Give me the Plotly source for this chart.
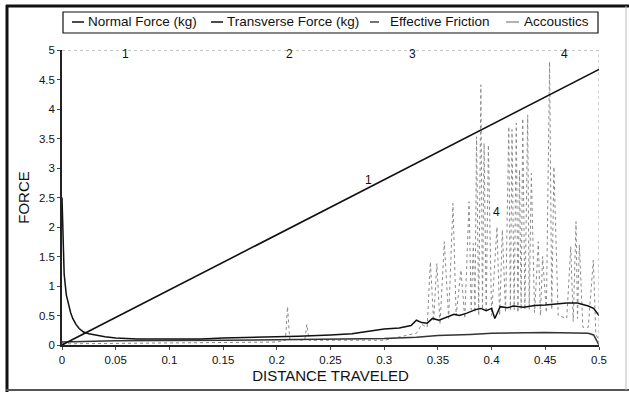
import plotly.graph_objects as go

# ---------------- data ----------------
normal_x = [0.0, 0.5]
normal_y = [0.0, 4.67]

trans_x = [0, 0.001, 0.002, 0.004, 0.006, 0.008, 0.01, 0.013, 0.016, 0.02, 0.025, 0.03, 0.04, 0.05,
           0.07, 0.1, 0.13, 0.15, 0.18, 0.2, 0.22, 0.25, 0.27, 0.284, 0.3, 0.314, 0.325, 0.33, 0.335,
           0.34, 0.345, 0.351, 0.36, 0.365, 0.37, 0.377, 0.385, 0.39, 0.395, 0.4, 0.403, 0.408, 0.415,
           0.42, 0.43, 0.44, 0.45, 0.46, 0.47, 0.48, 0.485, 0.49, 0.495, 0.5]
trans_y = [2.5, 1.9, 1.2, 0.85, 0.68, 0.55, 0.45, 0.35, 0.28, 0.22, 0.19, 0.17, 0.14, 0.12,
           0.1, 0.1, 0.1, 0.12, 0.13, 0.14, 0.15, 0.17, 0.19, 0.23, 0.27, 0.29, 0.33, 0.42, 0.38,
           0.37, 0.45, 0.42, 0.48, 0.52, 0.5, 0.54, 0.6, 0.62, 0.58, 0.62, 0.45, 0.65, 0.63,
           0.66, 0.64, 0.67, 0.68, 0.7, 0.71, 0.71, 0.69, 0.66, 0.62, 0.5]

fric_x = [0, 0.01, 0.02, 0.05, 0.1, 0.15, 0.2, 0.25, 0.3, 0.33, 0.35, 0.38, 0.4, 0.45, 0.49, 0.495, 0.5]
fric_y = [0.05, 0.06, 0.06, 0.07, 0.07, 0.08, 0.09, 0.1, 0.11, 0.13, 0.16, 0.18, 0.2, 0.21, 0.2, 0.17, 0.0]

acou_x = [0, 0.1, 0.2, 0.208, 0.21, 0.212, 0.226, 0.228, 0.23, 0.3, 0.33, 0.335, 0.34,
          0.343, 0.346, 0.349, 0.352, 0.356, 0.36, 0.364, 0.367, 0.3715, 0.375, 0.379, 0.381,
          0.383, 0.3845, 0.386, 0.388, 0.390, 0.3915, 0.393, 0.395, 0.397, 0.400, 0.405, 0.4075,
          0.410, 0.413, 0.416, 0.4175, 0.419, 0.421, 0.423, 0.4245, 0.426, 0.4275, 0.429, 0.431,
          0.4336, 0.435, 0.437, 0.440, 0.4435, 0.4455, 0.4475, 0.451, 0.454, 0.456, 0.458, 0.462,
          0.470, 0.4737, 0.476, 0.4786, 0.480, 0.4817, 0.485, 0.490, 0.4947, 0.497, 0.5]
acou_y = [0.02, 0.03, 0.05, 0.08, 0.65, 0.1, 0.08, 0.35, 0.08, 0.08, 0.2, 0.35, 0.3,
          1.41, 0.4, 1.38, 0.35, 1.75, 0.45, 2.40, 0.5, 1.27, 0.45, 2.43, 0.6,
          1.72, 0.55, 3.53, 0.5, 4.41, 0.6, 3.42, 0.55, 3.39, 0.5, 2.0, 0.5,
          1.95, 0.55, 3.70, 0.6, 3.65, 0.6, 3.76, 0.55, 2.97, 0.6, 3.84, 0.6,
          3.90, 0.6, 2.91, 0.55, 1.75, 0.5, 1.50, 0.55, 4.80, 0.6, 3.02, 0.5,
          0.45, 1.67, 0.4, 2.09, 0.45, 1.7, 0.3, 0.3, 1.44, 0.2, 0.05]

x_ticks = [0, 0.05, 0.1, 0.15, 0.2, 0.25, 0.3, 0.35, 0.4, 0.45, 0.5]
x_tick_text = ["0", "0.05", "0.1", "0.15", "0.2", "0.25", "0.3", "0.35", "0.4", "0.45", "0.5"]
y_ticks = [0, 0.5, 1, 1.5, 2, 2.5, 3, 3.5, 4, 4.5, 5]
y_tick_text = ["0", "0.5", "1", "1.5", "2", "2.5", "3", "3.5", "4", "4.5", "5"]

legend_names = ["Normal Force (kg)", "Transverse Force (kg)", "Effective Friction", "Accoustics"]

# ---------------- figure ----------------
W, H = 629, 394
ML, MR, MT, MB = 62, 30, 50, 49
PW, PH = W - ML - MR, H - MT - MB

def px(xp):
    return (xp - ML) / PW

def py(yp):
    return (H - MB - yp) / PH

fig = go.Figure()
fig.add_trace(go.Scatter(x=acou_x, y=acou_y, mode="lines", name=legend_names[3],
                         line=dict(color="#8a8a8a", width=1, dash="dot")))
fig.add_trace(go.Scatter(x=fric_x, y=fric_y, mode="lines", name=legend_names[2],
                         line=dict(color="#333333", width=1.5)))
fig.add_trace(go.Scatter(x=trans_x, y=trans_y, mode="lines", name=legend_names[1],
                         line=dict(color="#111111", width=1.5)))
fig.add_trace(go.Scatter(x=normal_x, y=normal_y, mode="lines", name=legend_names[0],
                         line=dict(color="#111111", width=1.6)))

font = "Liberation Sans, Arial, sans-serif"
shapes = []
annotations = []

# plot border top/right dotted
shapes.append(dict(type="line", xref="x", yref="y", x0=0, x1=0.5, y0=5, y1=5,
                   line=dict(color="#888", width=1, dash="dot")))
shapes.append(dict(type="line", xref="x", yref="y", x0=0.5, x1=0.5, y0=0, y1=5,
                   line=dict(color="#aaa", width=1, dash="dot")))

# outer frame
shapes.append(dict(type="line", xref="paper", yref="paper", x0=px(7), x1=px(7), y0=py(5), y1=py(392),
                   line=dict(color="#111", width=3)))
shapes.append(dict(type="line", xref="paper", yref="paper", x0=px(6), x1=px(629), y0=py(6), y1=py(6),
                   line=dict(color="#111", width=3)))
shapes.append(dict(type="line", xref="paper", yref="paper", x0=px(6), x1=px(629), y0=py(390), y1=py(390),
                   line=dict(color="#555", width=2)))
shapes.append(dict(type="line", xref="paper", yref="paper", x0=px(626), x1=px(626), y0=py(6), y1=py(390),
                   line=dict(color="#bbb", width=1)))

# manual legend
shapes.append(dict(type="rect", xref="paper", yref="paper", x0=px(63), x1=px(598), y0=py(12), y1=py(33),
                   line=dict(color="#111", width=1.2), fillcolor="white"))
leg_items = [
    (72, 84, 86, "#111", "solid"),
    (211, 223, 225, "#111", "solid"),
    (370, 385, 388, "#444", "dash"),
    (506, 519, 522, "#999", "solid"),
]
for (a, b, t, c, d), name in zip(leg_items, legend_names):
    shapes.append(dict(type="line", xref="paper", yref="paper", x0=px(a), x1=px(b), y0=py(22), y1=py(22),
                       line=dict(color=c, width=1.5, dash=d)))
    annotations.append(dict(text=name, xref="paper", yref="paper", x=px(t), y=py(22), xanchor="left",
                            yanchor="middle", showarrow=False, font=dict(family=font, size=13.5, color="#111")))

# curve labels
for txt, x, y, xa in [("1", 0.0587, 4.93, "center"), ("2", 0.212, 4.93, "center"),
                      ("3", 0.326, 4.93, "center"), ("4", 0.468, 4.93, "center"),
                      ("1", 0.285, 2.8, "center"), ("4", 0.405, 2.25, "center"),
                      ("2", 0.501, 0.5, "left"), ("3", 0.502, 0.14, "left")]:
    annotations.append(dict(text=txt, x=x, y=y, xref="x", yref="y", showarrow=False, xanchor=xa,
                            yanchor="middle", font=dict(family=font, size=12, color="#111")))

fig.update_layout(
    width=W, height=H,
    margin=dict(l=ML, r=MR, t=MT, b=MB),
    paper_bgcolor="white", plot_bgcolor="white",
    showlegend=False,
    shapes=shapes, annotations=annotations,
    font=dict(family=font, color="#222"),
    xaxis=dict(range=[0, 0.5], tickvals=x_ticks, ticktext=x_tick_text, showgrid=False, zeroline=False,
               showline=True, linecolor="#222", linewidth=1.5, ticks="outside", ticklen=3, tickcolor="#444",
               tickfont=dict(size=11.5, color="#111"),
               title=dict(text="DISTANCE TRAVELED", font=dict(size=15, color="#111"), standoff=6)),
    yaxis=dict(range=[0, 5], tickvals=y_ticks, ticktext=y_tick_text, showgrid=False, zeroline=False,
               showline=True, linecolor="#222", linewidth=1.5, ticks="outside", ticklen=3, tickcolor="#444",
               tickfont=dict(size=11.5, color="#111"),
               title=dict(text="FORCE", font=dict(size=15, color="#111"), standoff=6)),
)

fig.write_html("out.html", config={"displayModeBar": False},
               post_script="document.body.style.margin='0px';")
